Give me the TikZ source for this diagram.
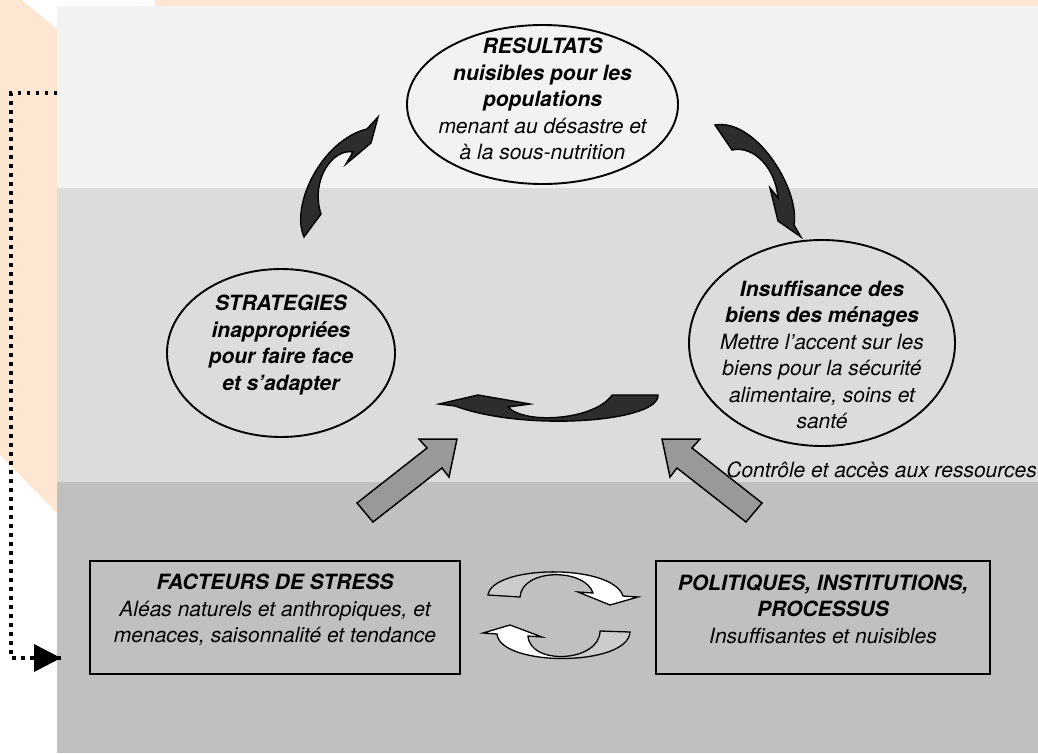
\documentclass[tikz,border=0pt]{standalone}
\usepackage{fontspec}
\setmainfont{TeX Gyre Heros}
\usetikzlibrary{arrows.meta,shapes.geometric}
\definecolor{peach}{RGB}{253,231,210}
\definecolor{bandA}{RGB}{242,242,242}
\definecolor{bandB}{RGB}{220,220,220}
\definecolor{bandC}{RGB}{192,192,192}
\definecolor{blockgray}{RGB}{153,153,153}
\definecolor{darkarrow}{RGB}{45,45,45}
\definecolor{ringgray}{RGB}{204,204,204}
\begin{document}
\begin{tikzpicture}[x=1pt,y=-1pt,
  txt/.style={font=\fontsize{21}{26.5}\selectfont\itshape, align=center, inner sep=0pt},
  oval/.style={ellipse, draw, line width=1.9pt, inner sep=0pt},
  boxnode/.style={draw, line width=1.9pt, inner sep=0pt},
  blockarrow/.style={fill=blockgray, draw=black, line width=1.5pt, line join=miter},
  curvearrow/.style={fill=darkarrow, draw=black, line width=1.4pt, line join=miter},
  ringline/.style={draw=black, line width=1.3pt, line join=miter},
  dotline/.style={line width=3.5pt, dash pattern=on 3.5pt off 5.5pt}
]
\useasboundingbox (0,0) rectangle (1038,753);
% background
\fill[peach] (0,0) -- (22,0) -- (57,29) -- (57,513) -- (0,455) -- cycle;
\fill[peach] (155,0) rectangle (1038,7);
\fill[bandA] (57,6) rectangle (1038,188);
\fill[bandB] (57,188) rectangle (1038,482);
\fill[bandC] (57,482) rectangle (1038,753);

% ellipses
\node[oval, minimum width=271pt, minimum height=159pt] (res) at (542.5,104.5) {};
\node[txt] (restxt) at (542.5,99) {\bfseries RESULTATS\\ \bfseries nuisibles pour les\\ \bfseries populations\\ menant au désastre et\\ à la sous-nutrition};

\node[oval, minimum width=228pt, minimum height=168pt] (strat) at (281,353) {};
\node[txt] (strattxt) at (281,345) {\bfseries STRATEGIES\\ \bfseries inappropriées\\ \bfseries pour faire face\\ \bfseries et s’adapter};

\node[oval, minimum width=266pt, minimum height=206pt] (biens) at (822,343) {};
\node[txt] (bienstxt) at (822,355) {\bfseries Insuffisance des\\ \bfseries biens des ménages\\ Mettre l’accent sur les\\ biens pour la sécurité\\ alimentaire, soins et\\ santé};

\node[txt, anchor=east] (ctrl) at (1037,470) {Contrôle et accès aux ressources};

% boxes
\node[boxnode, minimum width=370pt, minimum height=113pt] (stress) at (275,617.5) {};
\node[txt] (stresstxt) at (275,610) {\bfseries FACTEURS DE STRESS\\ Aléas naturels et anthropiques, et\\ menaces, saisonnalité et tendance};
\node[boxnode, minimum width=334pt, minimum height=113pt] (polit) at (823,617.5) {};
\node[txt] (polittxt) at (823,609) {\bfseries POLITIQUES, INSTITUTIONS,\\ \bfseries PROCESSUS\\ Insuffisantes et nuisibles};

% grey block arrows
\draw[blockarrow] (357,503) -- (427,448) -- (419,439) -- (457,439) -- (449,477) -- (442,468) -- (373,522) -- cycle;
\draw[blockarrow] (762,503) -- (692,448) -- (700,439) -- (662,439) -- (670,477) -- (677,468) -- (746,522) -- cycle;

% dark curved arrows
\draw[curvearrow] (304,237) .. controls (290,205) and (322,140) .. (367,129) -- (378,117) -- (371,143) -- (346,164) -- (353,152) .. controls (333,148) and (310,180) .. (321,214) -- cycle;
\draw[curvearrow] (715,125) -- (732,150) .. controls (755,145) and (776,170) .. (778,198) -- (770,188) -- (778,221) -- (801,237) -- (794,225) .. controls (800,188) and (755,118) .. (715,125) -- cycle;
\draw[curvearrow] (439,404) -- (478,395) -- (530,404) -- (508,407) .. controls (525,425) and (595,420) .. (612,395) -- (658,395) .. controls (660,422) and (525,432) .. (455,406) -- cycle;

% ring arrows
\def\ringA{(488,595) .. controls (492,565) and (612,563) .. (623,596) -- (638,597) -- (610,605) -- (578,592) -- (593,593) .. controls (585,568) and (522,568) .. (520,597) -- cycle}
\def\ringB{(630,632) .. controls (628,667) and (500,667) .. (497,634) -- (483,633) -- (510,625) -- (542,637) -- (528,636) .. controls (530,666) and (600,662) .. (600,631) -- cycle}
\fill[white] \ringA;
\begin{scope}
  \clip (470,555) rectangle (557,615);
  \fill[ringgray] \ringA;
\end{scope}
\path[ringline] \ringA;
\fill[white] \ringB;
\begin{scope}
  \clip (557,615) rectangle (650,680);
  \fill[ringgray] \ringB;
\end{scope}
\path[ringline] \ringB;

% dotted feedback connector
\coordinate (d1) at (57,93);
\coordinate (d2) at (11,93);
\coordinate (d3) at (11,658);
\coordinate (d4) at (61,658);
\draw[dotline] (d1) -- (d2) -- (d3) -- (d4);
\fill[black] (d4) -- (34,644) -- (34,672) -- cycle;
\end{tikzpicture}
\end{document}
